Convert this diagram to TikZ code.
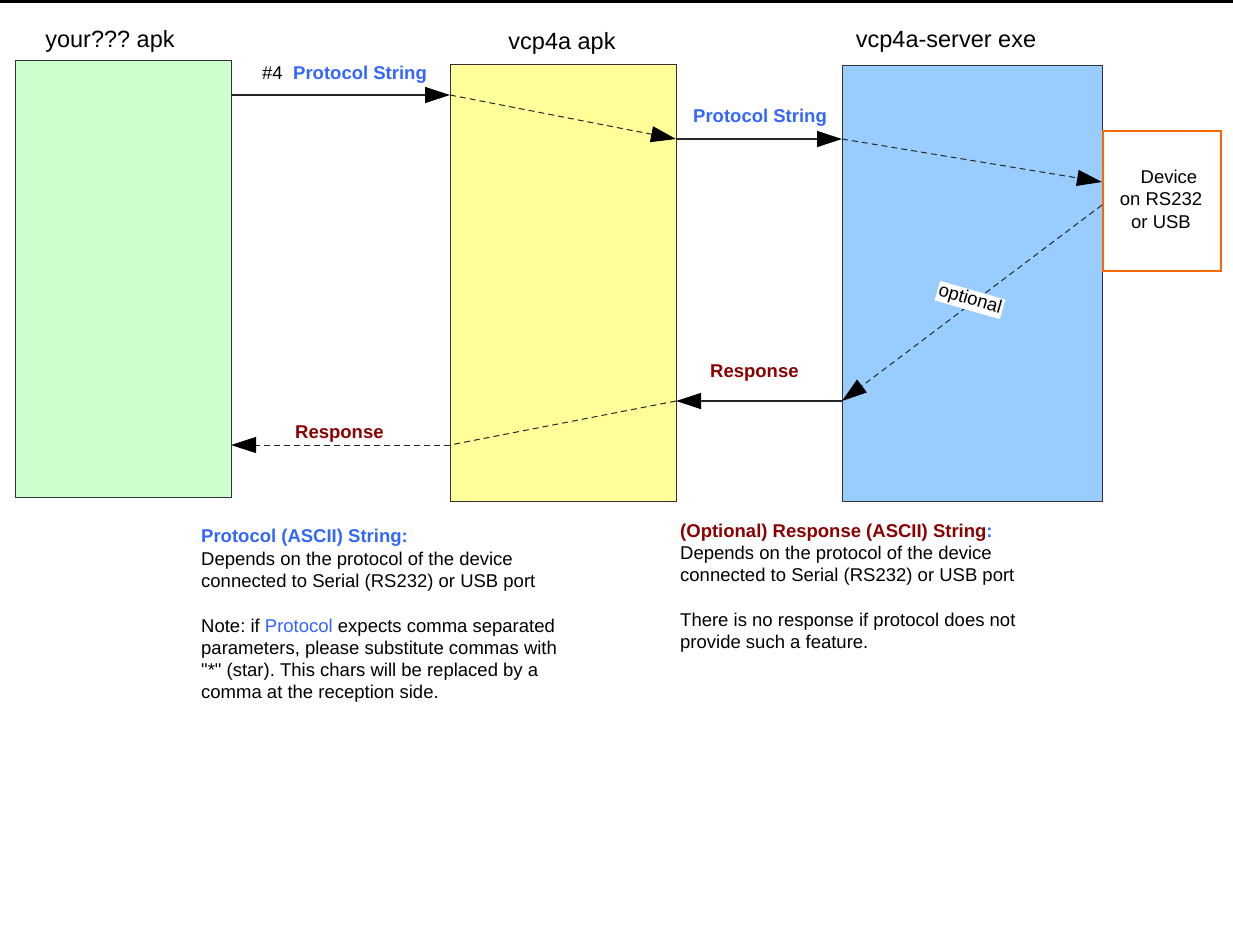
\documentclass[tikz,border=0pt]{standalone}
\usepackage{fontspec}
\setmainfont{Liberation Sans}
\newfontfamily\qfont{Liberation Sans}[Ligatures=ResetAll]
\usetikzlibrary{arrows.meta}
\definecolor{boxgreen}{HTML}{CCFFCC}
\definecolor{boxyellow}{HTML}{FFFF99}
\definecolor{boxblue}{HTML}{99CCFF}
\definecolor{devorange}{HTML}{FF6600}
\definecolor{boxline}{HTML}{333333}
\definecolor{protblue}{HTML}{3366FF}
\definecolor{respred}{HTML}{8B0000}
\frenchspacing
\begin{document}
\begin{tikzpicture}[x=1pt,y=-1pt,
  box/.style={draw=boxline, line width=1pt, inner sep=0pt, anchor=north west},
  tip/.style={-{Triangle[length=25pt,width=16pt,fill=black,color=black]}},
  flow/.style={draw=black!85, line width=1.2pt, tip},
  dflow/.style={draw=black!85, line width=1pt, dash pattern=on 6pt off 4pt},
  dflowa/.style={dflow, tip},
  txt/.style={anchor=base west, inner sep=0pt, font=\fontsize{18.5}{22}\selectfont},
  lbl/.style={anchor=base west, inner sep=0pt, font=\fontsize{18.5}{22}\selectfont\bfseries},
  ttl/.style={anchor=base, inner sep=0pt, font=\fontsize{23.5}{28}\selectfont},
  devtxt/.style={anchor=base, inner sep=0pt, font=\fontsize{18.5}{22}\selectfont}]
\useasboundingbox (0,0) rectangle (1233,932);
\fill[black] (0,0) rectangle (1233,3);

% boxes
\node[box, fill=boxgreen, minimum width=216pt, minimum height=437pt] (green) at (15,60) {};
\node[box, fill=boxyellow, minimum width=226pt, minimum height=437pt] (yellow) at (450,64) {};
\node[box, fill=boxblue, minimum width=260pt, minimum height=436pt] (blue) at (842,65) {};
\node[box, draw=devorange, line width=2pt, fill=white, minimum width=118pt, minimum height=140pt] (device) at (1102,130) {};

% titles
\node[ttl] (t1) at (110,47) {your??? apk};
\node[ttl] (t2) at (562,49) {vcp4a apk};
\node[ttl] (t3) at (946,47) {vcp4a-server exe};

% device text
\node[devtxt] (d1) at (1169,183) {Device};
\node[devtxt] (d2) at (1161,205) {on RS232};
\node[devtxt] (d3) at (1161,228) {or USB};

% connector points
\coordinate (g1) at (231,95);
\coordinate (y1) at (450,95);
\coordinate (y2) at (676,139);
\coordinate (b1) at (842,139);
\coordinate (dv1) at (1102,182);
\coordinate (dv2) at (1102,205);
\coordinate (b2) at (842,401);
\coordinate (y3) at (676,401);
\coordinate (y4) at (450,445);
\coordinate (g2) at (231,445);

\draw[flow] (g1) -- (y1);
\draw[dflowa] (y1) -- (y2);
\draw[flow] (y2) -- (b1);
\draw[dflowa] (b1) -- (dv1);
\draw[dflowa] (dv2) -- (b2);
\draw[flow] (b2) -- (y3);
\draw[dflow] (y3) -- (y4);
\draw[dflowa] (y4) -- (g2);

% labels
\node[txt] (n4) at (262,79) {\#4};
\node[lbl, text=protblue] (p1) at (293,79) {Protocol String};
\node[lbl, text=protblue] (p2) at (693,122) {Protocol String};
\node[lbl, text=respred] (r1) at (710,377) {Response};
\node[lbl, text=respred] (r2) at (295,438) {Response};
\node[fill=white, inner sep=1.5pt, rotate=-16, font=\fontsize{18.5}{22}\selectfont] (opt) at (970,300) {optional};

% left text block
\node[lbl, text=protblue] (L1) at (201,542) {Protocol (ASCII) String:};
\node[txt] (L2) at (201,565) {Depends on the protocol of the device};
\node[txt] (L3) at (201,587) {connected to Serial (RS232) or USB port};
\node[txt] (L4) at (201,632) {Note: if \textcolor{protblue}{Protocol} expects comma separated};
\node[txt] (L5) at (201,654) {parameters, please substitute commas with};
\node[txt] (L6) at (201,676) {{\qfont"*"} (star). This chars will be replaced by a};
\node[txt] (L7) at (201,698) {comma at the reception side.};

% right text block
\node[lbl, text=respred] (R1) at (680,537) {(Optional) Response (ASCII) String\textcolor{protblue}{:}};
\node[txt] (R2) at (680,559) {Depends on the protocol of the device};
\node[txt] (R3) at (680,581) {connected to Serial (RS232) or USB port};
\node[txt] (R4) at (680,626) {There is no response if protocol does not};
\node[txt] (R5) at (680,648) {provide such a feature.};
\end{tikzpicture}
\end{document}
